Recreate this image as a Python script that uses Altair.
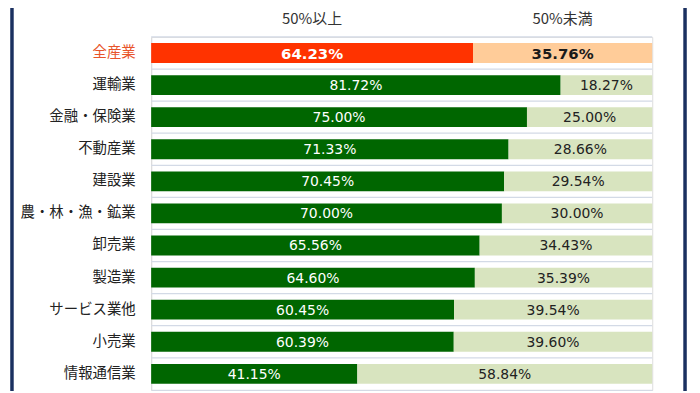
import altair as alt
import pandas as pd

categories = ["全産業", "運輸業", "金融・保険業", "不動産業", "建設業", "農・林・漁・鉱業",
              "卸売業", "製造業", "サービス業他", "小売業", "情報通信業"]
above = [64.23, 81.72, 75.00, 71.33, 70.45, 70.00, 65.56, 64.60, 60.45, 60.39, 41.15]
below = [35.76, 18.27, 25.00, 28.66, 29.54, 30.00, 34.43, 35.39, 39.54, 39.60, 58.84]
headers = ["50%以上", "50%未満"]

rows = []
for i, (c, a, b) in enumerate(zip(categories, above, below)):
    first = (i == 0)
    rows.append(dict(cat=c, start=0.0, end=a, mid=a / 2, label=f"{a:.2f}%",
                     kind="all_above" if first else "above", bold=first))
    rows.append(dict(cat=c, start=a, end=a + b, mid=a + b / 2, label=f"{b:.2f}%",
                     kind="all_below" if first else "below", bold=first))
df = pd.DataFrame(rows)

hdr = pd.DataFrame({"h": headers, "mid": [df.loc[0, "mid"], df.loc[1, "mid"]]})
seps = pd.DataFrame({"cat": categories})

kinds = ["all_above", "all_below", "above", "below"]
fill_colors = ["#ff3300", "#ffcc99", "#006600", "#d8e4bf"]
text_colors = ["#ffffff", "#1a1a1a", "#ffffff", "#222222"]

xs = alt.Scale(domain=[0, 100], nice=False, zero=False)
ys = alt.Scale(domain=categories, paddingInner=0, paddingOuter=0)

y_axis = alt.Axis(title=None, ticks=False, grid=False, domain=True, domainColor="#dcdcdc",
                  labelPadding=16, labelFont="Noto Sans CJK JP", labelFontSize=14.5,
                  labelColor={"condition": {"test": "datum.value === '全産業'", "value": "#e8542a"},
                              "value": "#222222"})
x_axis = alt.Axis(title=None, labels=False, ticks=False, grid=False, domain=True,
                  domainColor="#d3dae6")

bars = alt.Chart(df).mark_bar(size=20).encode(
    y=alt.Y("cat:N", scale=ys, axis=y_axis, sort=categories),
    x=alt.X("start:Q", scale=xs, axis=x_axis),
    x2="end:Q",
    fill=alt.Fill("kind:N", scale=alt.Scale(domain=kinds, range=fill_colors), legend=None),
)

sep = alt.Chart(seps).mark_rule(color="#d3dae6", strokeWidth=1.2).encode(
    y=alt.Y("cat:N", scale=ys, sort=categories, bandPosition=0),
    x=alt.value(0), x2=alt.value(504),
)

txt_norm = alt.Chart(df).transform_filter("!datum.bold").mark_text(
    font="DejaVu Sans", fontSize=14, baseline="middle", align="center", dy=1
).encode(
    y=alt.Y("cat:N", scale=ys, sort=categories),
    x=alt.X("mid:Q", scale=xs),
    text="label:N",
    color=alt.Color("kind:N", scale=alt.Scale(domain=kinds, range=text_colors), legend=None),
)
txt_bold = alt.Chart(df).transform_filter("datum.bold").mark_text(
    font="DejaVu Sans", fontSize=15, fontWeight="bold", baseline="middle", align="center", dy=1
).encode(
    y=alt.Y("cat:N", scale=ys, sort=categories),
    x=alt.X("mid:Q", scale=xs),
    text="label:N",
    color=alt.Color("kind:N", scale=alt.Scale(domain=kinds, range=text_colors), legend=None),
)

head = alt.Chart(hdr).mark_text(
    font="Noto Sans CJK JP", fontSize=15, color="#333333", baseline="middle", align="center"
).encode(
    x=alt.X("mid:Q", scale=xs),
    y=alt.value(-18),
    text="h:N",
)

frame_l = alt.Chart(hdr).mark_rule(color="#1b3060", strokeWidth=3).encode(
    x=alt.value(-140), y=alt.value(-40), y2=alt.value(400))
frame_r = alt.Chart(hdr).mark_rule(color="#1b3060", strokeWidth=3).encode(
    x=alt.value(537), y=alt.value(-40), y2=alt.value(400))

chart = alt.layer(sep, bars, txt_norm, txt_bold, head, frame_l, frame_r).resolve_scale(
    color="independent", fill="independent"
).properties(
    width=504, height=355,
    autosize=alt.AutoSizeParams(type="none"),
    padding={"left": 144, "top": 28, "right": 40, "bottom": 0},
).configure_view(stroke=None).configure(background="#ffffff")

chart.save("out.html", embed_options={"renderer": "svg", "actions": False})
